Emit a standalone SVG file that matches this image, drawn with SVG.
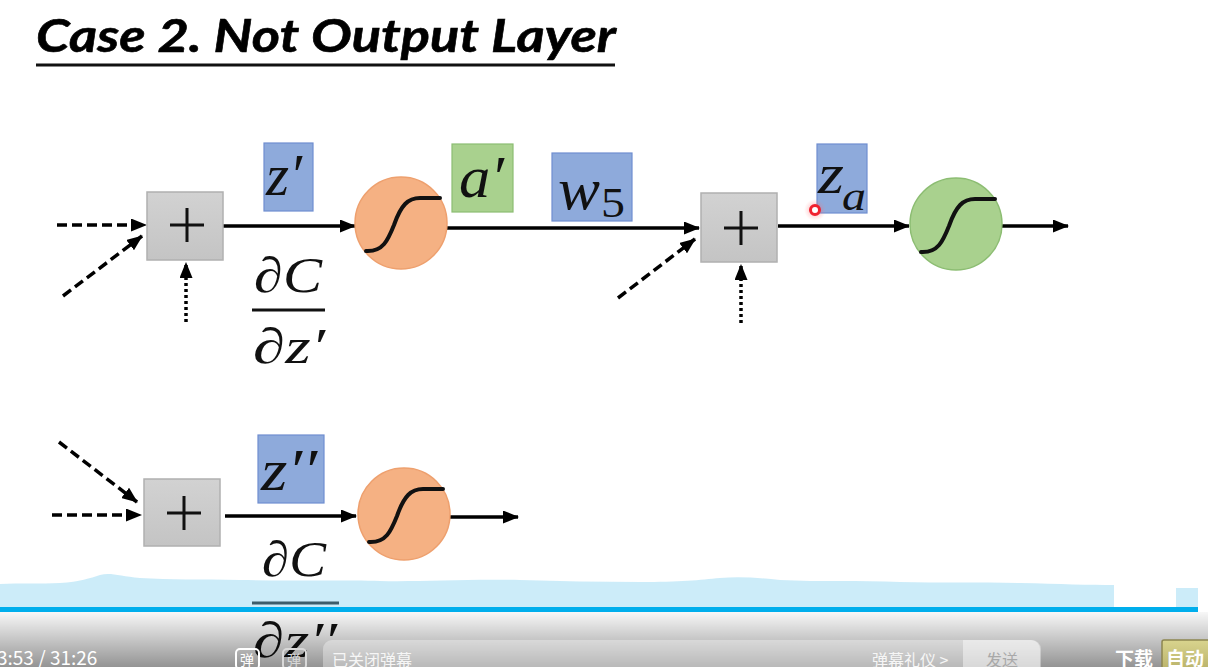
<svg xmlns="http://www.w3.org/2000/svg" width="1208" height="667" viewBox="0 0 1208 667">
<style>
.title{font-family:Lato,"Open Sans","Liberation Sans",sans-serif;font-weight:700;font-style:italic;font-size:46px;fill:#000;stroke:#000;stroke-width:0.6}
.m{font-family:"Liberation Serif","DejaVu Serif",serif;font-style:italic;fill:#111}
.u{font-family:"Liberation Serif","DejaVu Serif",serif;fill:#111}
.box{fill:url(#gbox);stroke:#b0b0b0;stroke-width:1.5}
.plus{stroke:#111;stroke-width:3;fill:none}
.lblB{fill:#8eaadb;stroke:#6f8ed0;stroke-width:1.2}
.lblG{fill:#a9d18e;stroke:#8cbd72;stroke-width:1.2}
.cO{fill:#f5b183;stroke:#eea06e;stroke-width:1.5}
.cG{fill:#a9d18e;stroke:#8cbd72;stroke-width:1.5}
.sig{fill:none;stroke:#111;stroke-width:4;stroke-linecap:round}
.solid{stroke:#000;stroke-width:3.5;fill:none}
.dash{stroke:#000;stroke-width:3.5;fill:none;stroke-dasharray:10 5}
.dot{stroke:#000;stroke-width:3.5;fill:none;stroke-dasharray:3 3}
.frac{stroke:#111;stroke-width:3}
.ui{font-family:"Noto Sans CJK SC","Noto Sans",sans-serif}
</style>
<defs>
<linearGradient id="gbox" x1="0" y1="0" x2="0" y2="1"><stop offset="0" stop-color="#d2d2d2"/><stop offset="1" stop-color="#c4c4c4"/></linearGradient>
<linearGradient id="gbar" x1="0" y1="0" x2="0" y2="1"><stop offset="0" stop-color="#000" stop-opacity="0.03"/><stop offset="1" stop-color="#000" stop-opacity="0.42"/></linearGradient>
<linearGradient id="gauto" x1="0" y1="0" x2="0" y2="1"><stop offset="0" stop-color="#d9d48e"/><stop offset="1" stop-color="#b9b26a"/></linearGradient>
<marker id="ah" markerUnits="userSpaceOnUse" markerWidth="16" markerHeight="13" refX="15" refY="6.5" orient="auto"><path d="M0,0 L16,6.5 L0,13 Z" fill="#000"/></marker>
<path id="sg" d="M-35,28 C-18,29 -13,17 -7,2 C0,-18 7,-25 19,-25 L39,-25"/>
<radialGradient id="laser"><stop offset="0" stop-color="#ff3040" stop-opacity="0.5"/><stop offset="1" stop-color="#ff8080" stop-opacity="0"/></radialGradient>
</defs>
<rect width="1208" height="667" fill="#fff"/>

<g id="title">
<text class="title" x="36" y="52" textLength="580" lengthAdjust="spacingAndGlyphs">Case 2. Not Output Layer</text>
<line x1="36" y1="65" x2="615" y2="65" stroke="#111" stroke-width="3"/>
</g>

<g id="connectors">
<line class="dash" x1="57" y1="225" x2="146" y2="225" marker-end="url(#ah)"/>
<line class="dash" x1="63" y1="296" x2="142" y2="236" marker-end="url(#ah)"/>
<line class="dot" x1="186" y1="322" x2="186" y2="263" marker-end="url(#ah)"/>
<line class="solid" x1="223" y1="226" x2="355" y2="226" marker-end="url(#ah)"/>
<line class="solid" x1="447" y1="228" x2="699" y2="228" marker-end="url(#ah)"/>
<line class="dash" x1="618" y1="298" x2="695" y2="239" marker-end="url(#ah)"/>
<line class="dot" x1="741" y1="323" x2="741" y2="265" marker-end="url(#ah)"/>
<line class="solid" x1="778" y1="226" x2="909" y2="226" marker-end="url(#ah)"/>
<line class="solid" x1="1002" y1="226" x2="1068" y2="226" marker-end="url(#ah)"/>
<line class="dash" x1="59" y1="442" x2="137" y2="502" marker-end="url(#ah)"/>
<line class="dash" x1="52" y1="515" x2="141" y2="515" marker-end="url(#ah)"/>
<line class="solid" x1="225" y1="516" x2="356" y2="516" marker-end="url(#ah)"/>
<line class="solid" x1="450" y1="517" x2="518" y2="517" marker-end="url(#ah)"/>
</g>

<g id="sum1"><rect class="box" x="147" y="192" width="76" height="68"/><path class="plus" d="M170,225 H204 M187,208 V242"/></g>
<g id="lbl-z1"><rect class="lblB" x="264" y="143" width="49" height="68"/><text class="m" x="266" y="195" font-size="60" textLength="36" lengthAdjust="spacingAndGlyphs">z′</text></g>
<g id="dCdz1">
<text class="m" x="254" y="292" font-size="50" textLength="68" lengthAdjust="spacingAndGlyphs">∂C</text>
<line class="frac" x1="252" y1="310" x2="325" y2="310"/>
<text class="m" x="253" y="363" font-size="50" textLength="72" lengthAdjust="spacingAndGlyphs">∂z′</text>
</g>
<g id="sig1"><circle class="cO" cx="401" cy="223" r="46"/><use href="#sg" class="sig" transform="translate(401,223)"/></g>
<g id="lbl-a1"><rect class="lblG" x="452" y="144" width="61" height="68"/><text class="m" x="459" y="197" font-size="60" textLength="45" lengthAdjust="spacingAndGlyphs">a′</text></g>
<g id="lbl-w5"><rect class="lblB" x="552" y="153" width="80" height="68"/><text class="m" x="558" y="209" font-size="60" textLength="42" lengthAdjust="spacingAndGlyphs">w</text><text class="u" x="601" y="217" font-size="42" textLength="24" lengthAdjust="spacingAndGlyphs">5</text></g>
<g id="sum2"><rect class="box" x="701" y="193" width="76" height="69"/><path class="plus" d="M724,228 H758 M741,211 V245"/></g>
<g id="lbl-za"><rect class="lblB" x="817" y="144" width="50" height="69"/><text class="m" x="818" y="193" font-size="58" textLength="26" lengthAdjust="spacingAndGlyphs">z</text><text class="m" x="842" y="210" font-size="40" textLength="24" lengthAdjust="spacingAndGlyphs">a</text></g>
<g id="laser-dot"><circle cx="815" cy="210" r="11" fill="url(#laser)"/><circle cx="815" cy="210" r="4.5" fill="#fff" stroke="#f0202e" stroke-width="3"/></g>
<g id="sig2"><circle class="cG" cx="956" cy="224" r="46"/><use href="#sg" class="sig" transform="translate(956,224)"/></g>

<g id="sum3"><rect class="box" x="144" y="479" width="76" height="67"/><path class="plus" d="M167,513 H201 M184,496 V530"/></g>
<g id="lbl-z2"><rect class="lblB" x="258" y="435" width="66" height="68"/><text class="m" x="261" y="490" font-size="60" textLength="56" lengthAdjust="spacingAndGlyphs">z′′</text></g>
<g id="sig3"><circle class="cO" cx="404" cy="514" r="46"/><use href="#sg" class="sig" transform="translate(404,514)"/></g>
<g id="dCdz2">
<text class="m" x="262" y="576" font-size="50" textLength="64" lengthAdjust="spacingAndGlyphs">∂C</text>
<line class="frac" x1="252" y1="603" x2="339" y2="603"/>
<text class="m" x="253" y="657" font-size="50" textLength="84" lengthAdjust="spacingAndGlyphs">∂z′′</text>
</g>

<g id="player">
<path d="M0,584 C20,583 40,584 60,583 C80,582 90,578 100,575 C110,572 120,576 140,578 C170,580 200,579 240,580 C300,581 350,580 380,581 C420,582 460,579 520,580 C560,581 600,582 640,582 C680,582 700,580 720,578 C740,576 760,578 780,580 C820,582 860,580 900,582 C940,583 980,582 1020,583 C1060,584 1090,585 1114,585 L1114,607 L0,607 Z" fill="#7fd0f0" fill-opacity="0.4"/>
<rect x="1176" y="588" width="22" height="19" fill="#7fd0f0" fill-opacity="0.4"/>
<rect x="0" y="607" width="1198" height="5" fill="#00aeec"/>
<rect x="0" y="612" width="1208" height="55" fill="url(#gbar)"/>
<text class="ui" x="-3" y="665" font-size="19" fill="#fff">3:53 / 31:26</text>
<rect x="236" y="649" width="23" height="20" rx="4" fill="none" stroke="#fff" stroke-width="2"/>
<text class="ui" x="240" y="665" font-size="14" fill="#fff">弹</text>
<rect x="283" y="649" width="23" height="20" rx="4" fill="none" stroke="#d8d8d8" stroke-width="2"/>
<text class="ui" x="287" y="665" font-size="14" fill="#d8d8d8">弹</text>
<rect x="323" y="640" width="718" height="40" rx="9" fill="#ffffff" fill-opacity="0.35"/>
<path d="M963,640 H1031 A9,9 0 0 1 1040,649 V667 H963 Z" fill="#ffffff" fill-opacity="0.45"/>
<text class="ui" x="332" y="666" font-size="16" fill="#f6f6f6">已关闭弹幕</text>
<text class="ui" x="872" y="666" font-size="16" fill="#f6f6f6">弹幕礼仪 &gt;</text>
<text class="ui" x="986" y="666" font-size="16" fill="#a8a8a8">发送</text>
<text class="ui" x="1115" y="666" font-size="19" font-weight="700" fill="#fff">下载</text>
<rect x="1162" y="640" width="50" height="30" rx="2" fill="url(#gauto)" stroke="#8d8650" stroke-width="1.5"/>
<text class="ui" x="1166" y="666" font-size="19" font-weight="700" fill="#fff">自动</text>
</g>
</svg>
